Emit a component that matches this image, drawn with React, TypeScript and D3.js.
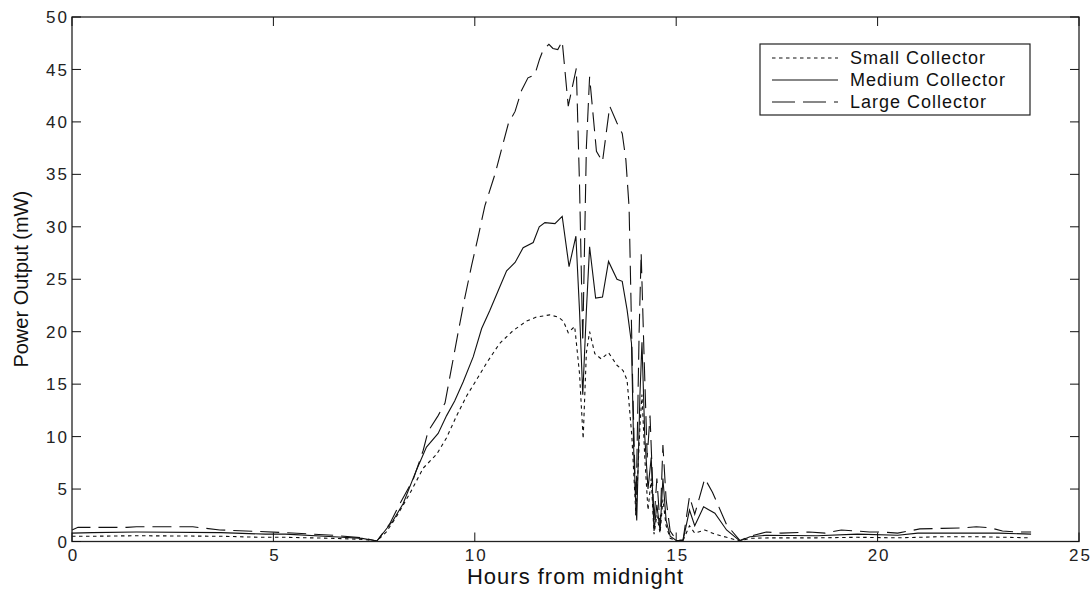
import React from 'react';
import * as d3 from 'd3';

// hours from midnight, power output (mW)
const smallCollector: [number, number][] = [
  [0, 0.5], [0.5, 0.5], [1.6, 0.55], [3.7, 0.5], [4.7, 0.4], [5.3, 0.4], [6.5, 0.3], [7.2, 0.2], [7.57, 0.05],
  [7.8, 0.9], [8.06, 2.4], [8.39, 4.6], [8.72, 7.0], [9.05, 8.3], [9.3, 9.9], [9.55, 12.0], [9.8, 13.9],
  [10.04, 15.4], [10.29, 17.0], [10.62, 18.9], [10.95, 20.1], [11.28, 21.0], [11.53, 21.4], [11.86, 21.6],
  [12.07, 21.4], [12.2, 21.0], [12.32, 19.9], [12.48, 20.5], [12.6, 16], [12.69, 9.8], [12.77, 18],
  [12.85, 20.0], [12.98, 17.9], [13.14, 17.4], [13.32, 18.0], [13.53, 16.8], [13.68, 16.3], [13.78, 15.4],
  [13.9, 10], [14.0, 2.5], [14.1, 11], [14.15, 14], [14.22, 8], [14.3, 3], [14.38, 6], [14.45, 0.7],
  [14.52, 2.5], [14.6, 0.8], [14.67, 4], [14.75, 1.5], [14.85, 0.3], [15.0, 0.1], [15.17, 0.1], [15.33, 1.5],
  [15.46, 0.8], [15.71, 1.1], [15.96, 0.7], [16.25, 0.4], [16.58, 0.05], [16.83, 0.3], [17.3, 0.35],
  [18.5, 0.35], [19.5, 0.4], [20.5, 0.35], [21.5, 0.45], [22.5, 0.45], [23.2, 0.4], [23.81, 0.35],
];

const mediumCollector: [number, number][] = [
  [0, 0.8], [0.5, 0.85], [1.6, 0.9], [3.7, 0.85], [4.8, 0.7], [5.3, 0.7], [6.5, 0.45], [7.2, 0.3], [7.57, 0.05],
  [7.97, 2.0], [8.22, 3.6], [8.55, 6.8], [8.8, 9.0], [9.09, 10.3], [9.3, 12.0], [9.5, 13.4], [9.71, 15.2],
  [9.96, 17.6], [10.17, 20.3], [10.37, 22.0], [10.58, 23.9], [10.79, 25.8], [11.0, 26.6], [11.2, 28.0],
  [11.45, 28.5], [11.6, 30.0], [11.74, 30.4], [11.99, 30.3], [12.17, 31.0], [12.34, 26.2], [12.51, 29.1],
  [12.6, 22], [12.68, 14], [12.77, 22], [12.85, 28.1], [13.0, 23.2], [13.17, 23.3], [13.32, 26.7],
  [13.53, 25.0], [13.66, 24.8], [13.78, 22.1], [13.89, 18.9], [13.95, 8], [14.02, 2], [14.1, 14],
  [14.15, 19], [14.22, 10], [14.3, 5], [14.38, 8], [14.45, 1], [14.52, 3.5], [14.6, 1], [14.67, 6],
  [14.75, 2], [14.85, 0.5], [15.0, 0.1], [15.17, 0.1], [15.33, 3.0], [15.46, 1.5], [15.68, 3.3],
  [15.96, 2.7], [16.25, 1.1], [16.58, 0.05], [16.83, 0.45], [17.24, 0.6], [18.5, 0.55], [19.5, 0.7],
  [20.5, 0.6], [21.0, 0.8], [22.0, 0.8], [23.0, 0.8], [23.81, 0.7],
];

const largeCollector: [number, number][] = [
  [0, 1.1], [0.15, 1.35], [1.36, 1.35], [1.6, 1.4], [3.0, 1.4], [3.67, 1.1], [4.67, 0.95], [5.24, 0.85],
  [6.48, 0.6], [7.2, 0.35], [7.57, 0.05],
  [7.89, 1.7], [8.14, 3.6], [8.47, 5.9], [8.72, 8.7], [8.84, 10.5], [9.09, 12.0], [9.26, 13.2], [9.42, 16.5],
  [9.59, 20.0], [9.75, 23.2], [9.92, 26.3], [10.08, 29.0], [10.25, 32.0], [10.5, 35.0], [10.7, 37.9],
  [10.83, 39.8], [11.0, 41.0], [11.16, 43.0], [11.32, 44.2], [11.49, 44.5], [11.61, 46.0], [11.69, 46.8],
  [11.84, 47.4], [11.94, 47.0], [12.06, 46.9], [12.17, 47.7], [12.32, 41.5], [12.52, 45.1], [12.6, 34],
  [12.68, 19], [12.77, 37.6], [12.85, 44.3], [13.02, 37.2], [13.17, 36.2], [13.35, 41.5], [13.53, 39.9],
  [13.66, 38.9], [13.75, 36.4], [13.83, 31.9], [13.92, 15], [14.0, 2.5], [14.08, 20], [14.13, 27.5],
  [14.2, 18], [14.28, 8], [14.35, 12], [14.45, 2], [14.52, 6], [14.6, 1.5], [14.67, 9.2], [14.75, 4],
  [14.85, 1], [15.0, 0.15], [15.17, 0.15], [15.33, 4.3], [15.46, 2.6], [15.71, 6.0], [15.9, 4.7],
  [16.25, 1.6], [16.58, 0.1], [16.83, 0.5], [17.24, 0.9], [17.6, 0.8], [18.3, 0.9], [18.7, 0.8],
  [19.1, 1.1], [19.47, 1.0], [19.8, 0.9], [20.1, 0.9], [20.5, 0.8], [21.05, 1.2], [21.6, 1.25],
  [22.1, 1.3], [22.45, 1.4], [22.8, 1.3], [23.1, 1.0], [23.5, 0.9], [23.81, 0.9],
];

const xTicks = [0, 5, 10, 15, 20, 25];
const yTicks = [0, 5, 10, 15, 20, 25, 30, 35, 40, 45, 50];

const series = [
  { name: 'Small Collector', data: smallCollector, dash: '3.5,3.5', legendDash: '3.5,3.5' },
  { name: 'Medium Collector', data: mediumCollector, dash: null, legendDash: null },
  { name: 'Large Collector', data: largeCollector, dash: '19,8', legendDash: '23,8' },
];

const W = 1092;
const H = 590;
const left = 72, right = 1079, top = 17, bottom = 541.5;
const font = 'Liberation Sans, Arial, Helvetica, sans-serif';
const ink = '#111';

export default function App() {
  const x = d3.scaleLinear().domain([0, 25]).range([left, right]);
  const y = d3.scaleLinear().domain([0, 50]).range([bottom, top]);
  const line = d3.line<[number, number]>().x((d) => x(d[0])).y((d) => y(d[1]));
  const tick = 9;

  return (
    <svg width={W} height={H} style={{ position: 'absolute', left: 0, top: 0, background: '#fff' }}
      fontFamily={font}>
      <rect x={0} y={0} width={W} height={H} fill="#fff" />

      {/* data lines */}
      <g fill="none" stroke={ink} strokeWidth={1.1}>
        {series.map((s) => (
          <path key={s.name} d={line(s.data) || ''} strokeDasharray={s.dash || undefined} />
        ))}
      </g>

      {/* axes box */}
      <rect x={left} y={top} width={right - left} height={bottom - top} fill="none" stroke="#222" strokeWidth={1.3} />

      {/* x ticks */}
      {xTicks.map((t) => (
        <g key={'x' + t}>
          <line x1={x(t)} x2={x(t)} y1={bottom} y2={bottom - tick} stroke={ink} />
          <line x1={x(t)} x2={x(t)} y1={top} y2={top + tick} stroke={ink} />
          <text x={x(t) + 1.5} y={561} textAnchor="middle" fontSize={17} letterSpacing={2} fill="#222">{t}</text>
        </g>
      ))}

      {/* y ticks */}
      {yTicks.map((t) => (
        <g key={'y' + t}>
          <line x1={left} x2={left + tick} y1={y(t)} y2={y(t)} stroke={ink} />
          <line x1={right} x2={right - tick} y1={y(t)} y2={y(t)} stroke={ink} />
          <text x={69} y={y(t)} dy="0.36em" textAnchor="end" fontSize={17} letterSpacing={2} fill="#222">{t}</text>
        </g>
      ))}

      {/* axis titles */}
      <text x={(left + right) / 2} y={584} textAnchor="middle" fontSize={22} letterSpacing={1} fill="#111">
        Hours from midnight
      </text>
      <text transform={`translate(27.5,${(top + bottom) / 2}) rotate(-90)`} textAnchor="middle" fontSize={20} fill="#111">
        Power Output (mW)
      </text>

      {/* legend */}
      <rect x={760} y={44} width={270} height={71} fill="#fff" stroke="#222" strokeWidth={1.2} />
      {series.map((s, i) => (
        <g key={'l' + s.name}>
          <line x1={772} x2={838} y1={58 + i * 22} y2={58 + i * 22} stroke={ink} strokeWidth={1.1}
            strokeDasharray={s.legendDash || undefined} />
          <text x={850} y={58 + i * 22} dy="0.36em" fontSize={18} letterSpacing={1} fill="#111">{s.name}</text>
        </g>
      ))}
    </svg>
  );
}
